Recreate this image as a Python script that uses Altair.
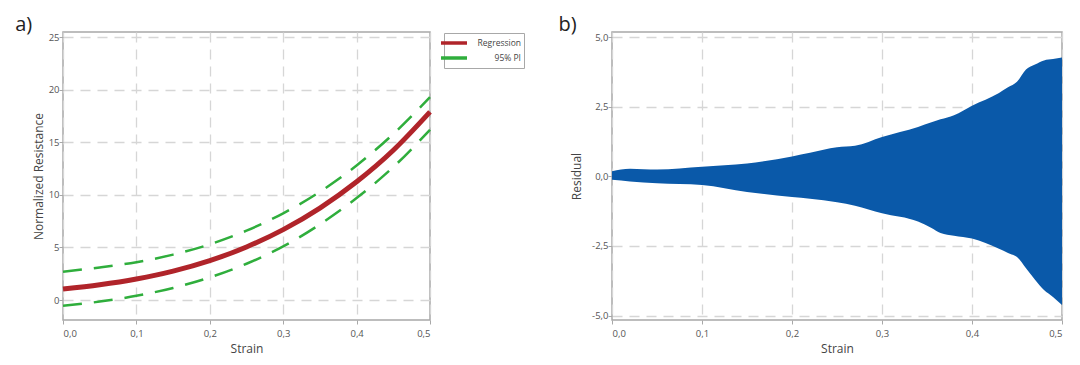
import altair as alt
import pandas as pd

# Panel a: regression + 95% prediction interval
strain_a = [0.0, 0.05, 0.1, 0.15, 0.2, 0.25, 0.3, 0.35, 0.4, 0.45, 0.5]
regression = [1.05, 1.45, 2.0, 2.75, 3.75, 5.05, 6.7, 8.75, 11.25, 14.25, 17.9]
pi_upper = [2.7, 3.1, 3.6, 4.32, 5.3, 6.6, 8.25, 10.3, 12.8, 15.8, 19.3]
pi_lower = [-0.55, -0.15, 0.4, 1.15, 2.15, 3.45, 5.1, 7.2, 9.7, 12.65, 16.2]

# Panel b: residual envelope
strain_b = [0.0, 0.02, 0.05, 0.1, 0.15, 0.2, 0.22, 0.25, 0.27, 0.3, 0.34, 0.355, 0.365,
            0.38, 0.4, 0.43, 0.44, 0.45, 0.46, 0.47, 0.48, 0.49, 0.5]
resid_upper = [0.19, 0.28, 0.25, 0.35, 0.46, 0.72, 0.85, 1.05, 1.1, 1.42, 1.78, 1.95, 2.05,
               2.2, 2.54, 3.0, 3.2, 3.4, 3.84, 4.02, 4.17, 4.22, 4.27]
resid_lower = [-0.12, -0.18, -0.25, -0.31, -0.56, -0.74, -0.8, -0.93, -1.05, -1.32, -1.62, -1.85, -2.03,
               -2.13, -2.23, -2.6, -2.75, -2.9, -3.3, -3.71, -4.08, -4.33, -4.62]

FONT = "Open Sans"
GRID = "#d6d6d6"
FRAME = "#a8a8a8"
RED = "#b0242a"
GREEN = "#2fae3c"
BLUE = "#0a59a9"

dfa = pd.DataFrame({
    "strain": strain_a * 3,
    "value": regression + pi_upper + pi_lower,
    "series": ["Regression"] * len(strain_a) + ["95% PI"] * len(strain_a) + ["95% PI lo"] * len(strain_a),
})
dfb = pd.DataFrame({"strain": strain_b, "up": resid_upper, "lo": resid_lower})

comma = "replace(replace(format(datum.value, '.1f'), '.', ','), '\u2212', '-')"
x_ticks = [0, 0.1, 0.2, 0.3, 0.4, 0.5]

xa = alt.X("strain:Q", title="Strain",
           scale=alt.Scale(domain=[0, 0.5], nice=False, zero=False),
           axis=alt.Axis(values=x_ticks, labelExpr=comma))
ya = alt.Y("value:Q", title="Normalized Resistance",
           scale=alt.Scale(domain=[-1.9, 25.5], nice=False, zero=False),
           axis=alt.Axis(values=[0, 5, 10, 15, 20, 25], titlePadding=3))

reg = alt.Chart(dfa).transform_filter("datum.series == 'Regression'").mark_line(
    strokeWidth=5, color=RED, interpolate="monotone").encode(
    x=xa, y=ya,
    color=alt.Color("series:N", scale=alt.Scale(domain=["Regression", "95% PI"], range=[RED, GREEN]),
                    legend=alt.Legend(title=None, orient="none", legendX=381, legendY=1,
                                      symbolType="M-2.6,0H2.6", symbolStrokeWidth=3.5, symbolSize=100,
                                      strokeColor=FRAME, padding=3, labelFontSize=8.5, labelFont=FONT,
                                      labelColor="#444", rowPadding=1, labelLimit=80,
                                      labelAlign="right", labelOffset=60)))
pis = alt.Chart(dfa).transform_filter("datum.series != 'Regression'").mark_line(
    strokeWidth=2.5, strokeDash=[19, 12], color=GREEN, interpolate="monotone").encode(
    x="strain:Q", y="value:Q", detail="series:N")

title_kw = dict(anchor="start", fontSize=20, font=FONT, fontWeight="normal", color="#222", offset=-3)

panel_a = alt.layer(pis, reg).properties(
    width=367, height=288, title=alt.TitleParams("a)", dx=-17, **title_kw))

xb = alt.X("strain:Q", title="Strain",
           scale=alt.Scale(domain=[0, 0.5], nice=False, zero=False),
           axis=alt.Axis(values=x_ticks, labelExpr=comma))
yb = alt.Y("up:Q", title="Residual",
           scale=alt.Scale(domain=[-5.16, 5.19], nice=False, zero=False),
           axis=alt.Axis(values=[-5, -2.5, 0, 2.5, 5], labelExpr=comma, titlePadding=8))

panel_b = alt.Chart(dfb).mark_area(color=BLUE, opacity=1, interpolate="monotone").encode(
    x=xb, y=yb, y2="lo:Q").properties(
    width=450, height=288, title=alt.TitleParams("b)", dx=-12, **title_kw))

chart = alt.hconcat(panel_a, panel_b, spacing=116).properties(
    background="white", padding={"left": 6, "top": 6, "right": 5, "bottom": 0}
).configure_axis(
    grid=True, gridColor=GRID, gridDash=[10, 7], gridWidth=1.3,
    domain=False, tickColor=FRAME, tickSize=4,
    labelFont=FONT, labelFontSize=9.5, labelColor="#555",
    titleFont=FONT, titleFontSize=12, titleColor="#444", titleFontWeight="normal",
).configure_axisX(labelPadding=4, titlePadding=6).configure_axisY(labelPadding=0).configure_view(
    stroke=FRAME, strokeWidth=1.5
)

chart.save("out.html", embed_options={"renderer": "svg", "actions": False})
